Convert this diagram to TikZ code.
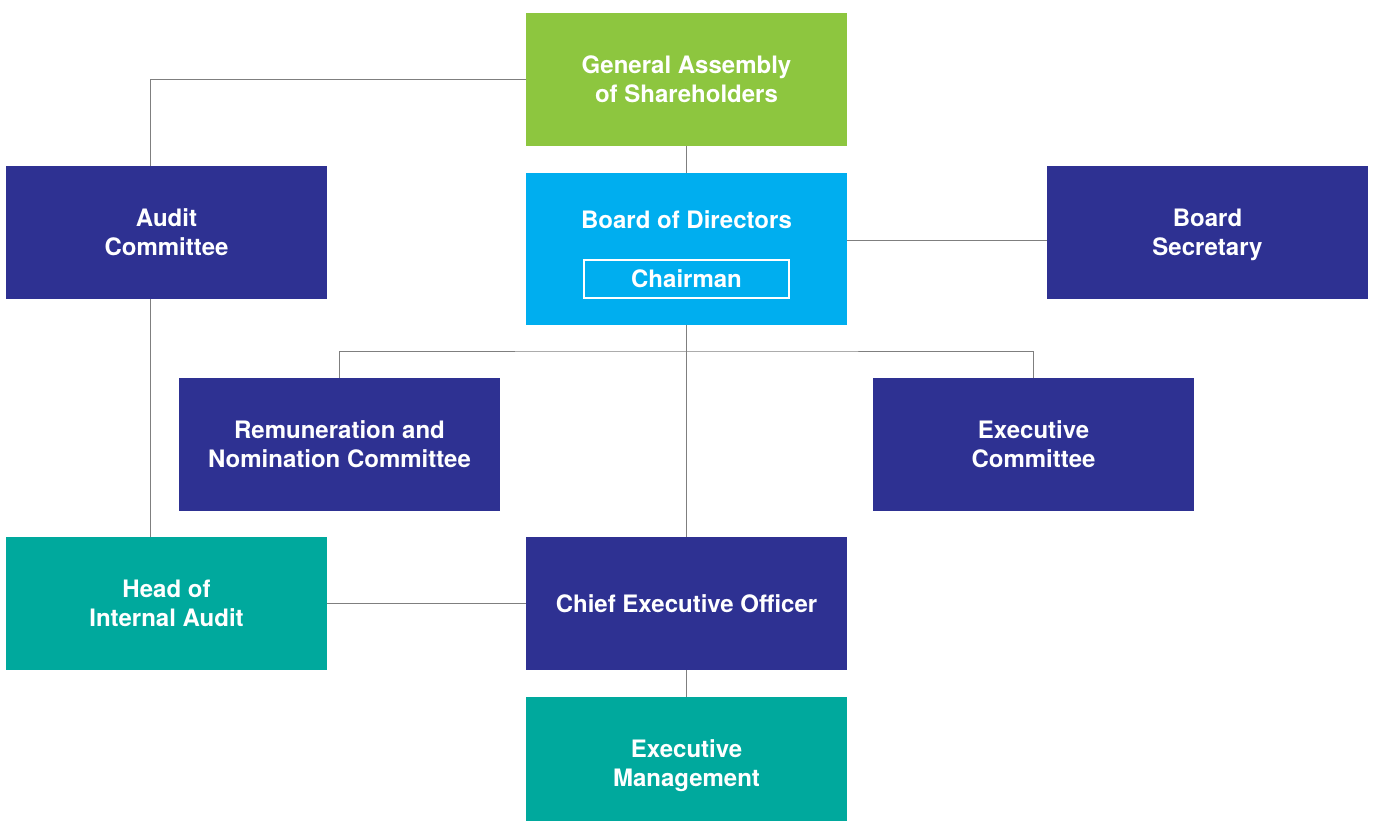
\documentclass[tikz,border=0pt]{standalone}
\usepackage{fontspec}
\setmainfont{TeX Gyre Heros}
\usetikzlibrary{calc}
\definecolor{gagreen}{HTML}{8DC63F}
\definecolor{boardcyan}{HTML}{00AEEF}
\definecolor{navy}{HTML}{2E3192}
\definecolor{teal}{HTML}{00A99D}
\definecolor{linkgray}{HTML}{7F7F7F}
\begin{document}
\begin{tikzpicture}[x=1pt,y=-1pt,
  label font/.style={font=\fontsize{24}{29}\selectfont\bfseries},
  orgbox/.style={rectangle, inner sep=0pt, outer sep=0pt, minimum width=321pt,
    minimum height=133pt, text=white, align=center, text depth=0pt, label font},
  link/.style={draw=linkgray, line width=1pt}]
  \useasboundingbox (0,0) rectangle (1375,821);
  \clip (0,0) rectangle (1375,821);
  % boxes
  \node[orgbox, fill=gagreen] (ga) at (686.5,79.5) {General Assembly\\of Shareholders};
  \node[orgbox, fill=boardcyan, minimum height=152pt] (bod) at (686.5,249) {};
  \node[text=white, text depth=0pt, label font] (bodt) at (686.5,220) {Board of Directors};
  \node[draw=white, line width=2pt, minimum width=205pt, minimum height=38pt, inner sep=0pt,
    text=white, text depth=0pt, label font] (chair) at (686.5,279) {Chairman};
  \node[orgbox, fill=navy] (audit) at (166.5,232.5) {Audit\\Committee};
  \node[orgbox, fill=navy] (sec) at (1207.5,232.5) {Board\\Secretary};
  \node[orgbox, fill=navy] (rem) at (339.5,444.5) {Remuneration and\\Nomination Committee};
  \node[orgbox, fill=navy] (exc) at (1033.5,444.5) {Executive\\Committee};
  \node[orgbox, fill=teal] (hia) at (166.5,603.5) {Head of\\Internal Audit};
  \node[orgbox, fill=navy] (ceo) at (686.5,603.5) {Chief Executive Officer};
  \node[orgbox, fill=teal] (em) at (686.5,763.5) {Executive\\Management};
  % connectors
  \coordinate (auditin) at ($(audit.north)+(-16.5,0)$);
  \coordinate (auditout) at ($(audit.south)+(-16.5,0)$);
  \coordinate (secin) at ($(sec.west)+(0,7.5)$);
  \draw[link] (ga.west) -| (auditin);
  \draw[link] (ga.south) -- (bod.north);
  \draw[link] (auditout) -- (auditout |- hia.north);
  \draw[link] (bod.east |- secin) -- (secin);
  \draw[link] (bod.south) -- (ceo.north);
  \coordinate (split) at (686.5,351);
  \draw[link] (rem.north) |- (split) -| (exc.north);
  \draw[link] (hia.east) -- (ceo.west);
  \draw[link] (ceo.south) -- (em.north);
\end{tikzpicture}
\end{document}
